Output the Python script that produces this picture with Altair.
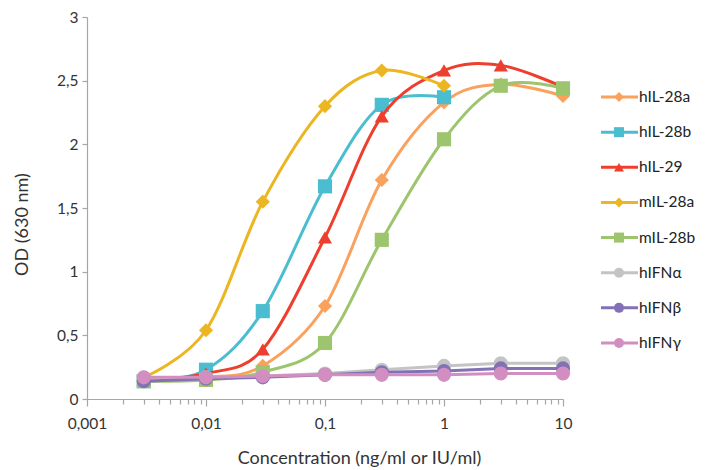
import altair as alt
import pandas as pd

conc = [0.003, 0.01, 0.03, 0.1, 0.3, 1, 3, 10]
series = ["hIL-28a", "hIL-28b", "hIL-29", "mIL-28a", "mIL-28b", "hIFNα", "hIFNβ", "hIFNγ"]
colors = ["#F9A15D", "#4BBDD1", "#EE3F2E", "#ECB622", "#9DC56E", "#C4C4C4", "#8471B5", "#D28EC1"]
shapes = ["diamond", "square", "triangle-up", "diamond", "square", "circle", "circle", "circle"]
smooth = ["hIL-28a", "hIL-28b", "hIL-29", "mIL-28a", "mIL-28b"]

hIL28a = [0.15, 0.17, 0.26, 0.73, 1.72, 2.33, 2.47, 2.38]
hIL28b = [0.14, 0.23, 0.69, 1.67, 2.31, 2.37]
hIL29 = [0.15, 0.20, 0.39, 1.27, 2.22, 2.58, 2.62, 2.45]
mIL28a = [0.17, 0.54, 1.55, 2.30, 2.58, 2.46]
mIL28b = [0.14, 0.15, 0.21, 0.44, 1.25, 2.04, 2.46, 2.44]
hIFNa = [0.15, 0.17, 0.18, 0.20, 0.23, 0.26, 0.28, 0.28]
hIFNb = [0.14, 0.16, 0.17, 0.19, 0.21, 0.22, 0.24, 0.24]
hIFNg = [0.17, 0.17, 0.18, 0.19, 0.19, 0.19, 0.20, 0.20]
values = [hIL28a, hIL28b, hIL29, mIL28a, mIL28b, hIFNa, hIFNb, hIFNg]

x_ticks = [0.001, 0.002, 0.003, 0.004, 0.005, 0.006, 0.007, 0.008, 0.009,
           0.01, 0.02, 0.03, 0.04, 0.05, 0.06, 0.07, 0.08, 0.09,
           0.1, 0.2, 0.3, 0.4, 0.5, 0.6, 0.7, 0.8, 0.9,
           1, 2, 3, 4, 5, 6, 7, 8, 9, 10]
y_ticks = [0, 0.5, 1, 1.5, 2, 2.5, 3]

rows = []
for i, (s, vals) in enumerate(zip(series, values)):
    for c, v in zip(conc, vals):
        rows.append({"series": s, "conc": c, "od": v, "k": i})
df = pd.DataFrame(rows)

FONT = "Lato"
AXC = "#A6A6A6"
TXT = "#333333"
major_test = "abs(log(datum.value)/LN10 - round(log(datum.value)/LN10)) < 1e-6"

x_enc = alt.X(
    "conc:Q",
    scale=alt.Scale(type="log", domain=[0.001, 10], nice=False),
    axis=alt.Axis(
        values=x_ticks,
        labelExpr=f"({major_test}) ? replace(toString(datum.value), '.', ',') : ''",
        tickSize={"condition": {"test": major_test, "value": 7}, "value": 5},
        labelFlush=False,
        labelOverlap=False,
        title="Concentration (ng/ml or IU/ml)",
        titleX=272,
        titleAlign="center",
        titlePadding=18,
        labelPadding=10,
        grid=False,
    ),
)
y_enc = alt.Y(
    "od:Q",
    scale=alt.Scale(domain=[0, 3], nice=False),
    axis=alt.Axis(
        values=y_ticks,
        labelExpr="replace(toString(datum.value), '.', ',')",
        tickSize=5,
        labelFlush=False,
        title="OD (630 nm)",
        titleY=207,
        titleAlign="center",
        titlePadding=25,
        labelPadding=4,
        grid=False,
    ),
)
color_enc = alt.Color("series:N", scale=alt.Scale(domain=series, range=colors), legend=None)
shape_enc = alt.Shape("series:N", scale=alt.Scale(domain=series, range=shapes), legend=None)

layers = []
for s in series:
    sub = alt.Chart(df).transform_filter(alt.datum.series == s)
    interp = "cardinal" if s in smooth else "linear"
    layers.append(sub.mark_line(strokeWidth=3, interpolate=interp).encode(x=x_enc, y=y_enc, color=color_enc))
    layers.append(sub.mark_point(filled=True, opacity=1, size=200).encode(x=x_enc, y=y_enc, color=color_enc, shape=shape_enc))

main = alt.layer(*layers).properties(width=476, height=382)

leg_df = pd.DataFrame({"series": series, "k": list(range(len(series)))})
leg_y = alt.Y("k:Q", scale=alt.Scale(domain=[-2.277, 8.594], reverse=True, nice=False, zero=False), axis=None)
leg_base = alt.Chart(leg_df)
leg_rule = leg_base.mark_rule(strokeWidth=3).encode(x=alt.value(0), x2=alt.value(37), y=leg_y, color=color_enc)
leg_pt = leg_base.mark_point(filled=True, opacity=1, size=100).encode(x=alt.value(18), y=leg_y, color=color_enc, shape=shape_enc)
leg_txt = leg_base.mark_text(align="left", baseline="middle", fontSize=15.5, font=FONT, color="#222222").encode(
    x=alt.value(38), y=leg_y, text="series:N")
legend = alt.layer(leg_rule, leg_pt, leg_txt).properties(width=40, height=382)

chart = alt.hconcat(main, legend, spacing=27).configure_view(stroke=None).configure_axis(
    domainColor=AXC, tickColor=AXC, domainWidth=1.2, tickWidth=1.2,
    labelFont=FONT, labelFontSize=15.5, labelColor=TXT,
    titleFont=FONT, titleFontSize=18, titleFontWeight="normal", titleColor=TXT,
).properties(padding={"left": 5, "top": 2, "right": 0, "bottom": 0})

chart.save("out.html", embed_options={"renderer": "svg", "actions": False})
